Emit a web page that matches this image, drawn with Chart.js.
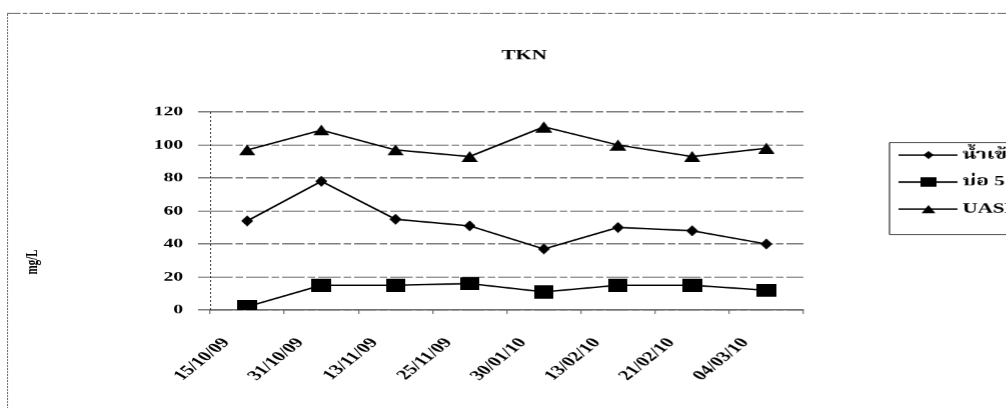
<!DOCTYPE html>
<html>
<head>
<meta charset="utf-8">
<script src="https://cdn.jsdelivr.net/npm/chart.js@4"></script>
<style>
  html, body { margin: 0; padding: 0; background: #fff; overflow: hidden; }
  #wrap { width: 1006px; height: 408px; position: relative; overflow: hidden; }
  /* the sheet is laid out narrow and widened 1.5x, like the printed original */
  #c { position: absolute; left: 0; top: 0; transform-origin: 0 0; transform: scaleX(1.5); }
</style>
</head>
<body>
<div id="wrap"><canvas id="c" width="671" height="408"></canvas></div>
<script>
// Sampling dates and TKN concentrations (mg/L)
const dates = ['15/10/09', '31/10/09', '13/11/09', '25/11/09', '30/01/10', '13/02/10', '21/02/10', '04/03/10'];
const influent = [54, 78, 55, 51, 37, 50, 48, 40];
const pond5 = [2, 15, 15, 16, 11, 15, 15, 12];
const uasb = [97, 109, 97, 93, 111, 100, 93, 98];
const seriesNames = ['น้ำเข้า', 'บ่อ 5', 'UASB'];
const chartTitle = 'TKN';
const yTitle = 'mg/L';
const yMin = 0, yMax = 120, yStep = 20;

const SX = 1.5; // horizontal widening applied to the canvas
const FONT = "'Liberation Serif', 'Noto Serif Thai', 'Noto Sans Thai', serif";

// Solid black marker glyphs, drawn at high resolution
function markerImage(kind, w, h) {
  const k = 4;
  const c = document.createElement('canvas');
  c.width = w * k; c.height = h * k;
  const g = c.getContext('2d');
  const W = c.width, H = c.height;
  g.fillStyle = '#000';
  g.beginPath();
  if (kind === 'diamond') {
    g.moveTo(W / 2, 0); g.lineTo(W, H / 2); g.lineTo(W / 2, H); g.lineTo(0, H / 2);
  } else if (kind === 'rect') {
    g.rect(0, 0, W, H);
  } else {
    g.moveTo(W / 2, 0); g.lineTo(W, H); g.lineTo(0, H);
  }
  g.closePath();
  g.fill();
  const img = new Image(w, h);
  img.src = c.toDataURL();
  return img;
}
const diamondMark = markerImage('diamond', 8, 11);
const rectMark = markerImage('rect', 13, 13);
const triMark = markerImage('triangle', 11, 11);

// Page frame, dotted value axis, titles and legend
const decor = {
  id: 'decor',
  beforeDraw(chart) {
    const ctx = chart.ctx;
    ctx.save();
    ctx.strokeStyle = '#666';
    ctx.lineWidth = 1;
    ctx.setLineDash([9, 1.5, 3, 1.5]);
    ctx.beginPath(); ctx.moveTo(7 / SX, 13.5); ctx.lineTo(chart.width, 13.5); ctx.stroke();
    ctx.lineWidth = 1 / SX;
    ctx.setLineDash([2, 1]);
    ctx.beginPath(); ctx.moveTo(7.5 / SX, 14); ctx.lineTo(7.5 / SX, chart.height); ctx.stroke();
    ctx.restore();
  },
  afterDraw(chart) {
    const ctx = chart.ctx;
    const a = chart.chartArea;
    ctx.save();
    ctx.strokeStyle = '#333';
    ctx.lineWidth = 1 / SX;
    ctx.setLineDash([2, 2]);
    ctx.beginPath(); ctx.moveTo(a.left + 0.5 / SX, a.top); ctx.lineTo(a.left + 0.5 / SX, a.bottom); ctx.stroke();
    ctx.setLineDash([]);

    ctx.fillStyle = '#000';
    ctx.font = 'bold 14px ' + FONT;
    ctx.textAlign = 'center';
    ctx.textBaseline = 'middle';
    ctx.fillText(chartTitle, 524 / SX, 56);

    // value-axis unit, written upwards
    ctx.save();
    ctx.translate(33 / SX, 262);
    ctx.rotate(-Math.PI / 2);
    ctx.font = 'bold 11px ' + FONT;
    ctx.fillText(yTitle, 0, 0);
    ctx.restore();

    const lx = 889 / SX, ly = 142;
    ctx.strokeStyle = '#000';
    ctx.lineWidth = 1 / SX;
    ctx.beginPath(); ctx.moveTo(chart.width + 5, ly + 0.5); ctx.lineTo(lx, ly + 0.5); ctx.lineTo(lx, ly + 92.5); ctx.lineTo(chart.width + 5, ly + 92.5); ctx.stroke();
    const marks = [[diamondMark, 7, 8], [rectMark, 11, 9], [triMark, 9, 8]];
    chart.data.datasets.forEach((ds, i) => {
      const y = 155 + i * 27;
      ctx.strokeStyle = '#000';
      ctx.lineWidth = 1.5;
      ctx.beginPath(); ctx.moveTo(898 / SX, y); ctx.lineTo(957 / SX, y); ctx.stroke();
      const [m, w, h] = marks[i];
      ctx.drawImage(m, 928 / SX - w / 2, y - h / 2, w, h);
      ctx.fillStyle = '#000';
      ctx.font = 'bold 14px ' + FONT;
      ctx.textAlign = 'left';
      ctx.textBaseline = 'middle';
      ctx.fillText(ds.label, 962 / SX, y);
    });
    ctx.restore();
  }
};

const lineStyle = { borderColor: '#000', borderWidth: 1.5, pointRadius: 6, tension: 0, fill: false };

function draw() {
  new Chart(document.getElementById('c'), {
    type: 'line',
    data: {
      labels: dates,
      datasets: [
        Object.assign({ label: seriesNames[0], data: influent, pointStyle: diamondMark }, lineStyle),
        Object.assign({ label: seriesNames[1], data: pond5, pointStyle: rectMark }, lineStyle),
        Object.assign({ label: seriesNames[2], data: uasb, pointStyle: triMark }, lineStyle)
      ]
    },
    options: {
      responsive: false,
      animation: false,
      devicePixelRatio: SX,
      layout: { padding: { left: 10, right: 671 - 803 / SX, top: 112, bottom: 0 } },
      plugins: { legend: { display: false }, title: { display: false }, tooltip: { enabled: false } },
      scales: {
        x: {
          type: 'category',
          offset: true,
          grid: { offset: true, drawOnChartArea: false, drawTicks: true, tickLength: 4, tickWidth: 1 / SX, color: '#555' },
          border: { display: true, color: '#444', width: 1 },
          ticks: {
            autoSkip: false, minRotation: 50, maxRotation: 50,
            labelOffset: -14, padding: 21,
            color: '#000', font: { family: FONT, size: 14, weight: 'bold' }
          },
          afterFit(s) { s.height = 98; }
        },
        y: {
          min: yMin, max: yMax,
          grid: { color: '#555', tickLength: 8, lineWidth: 1 },
          border: { display: false, dash: [15, 2, 5, 2] },
          ticks: { stepSize: yStep, padding: 10, color: '#000', font: { family: FONT, size: 13, weight: 'bold' } },
          afterFit(s) { s.width = 210 / SX - 10; }
        }
      }
    },
    plugins: [decor]
  });
}

Promise.all([diamondMark, rectMark, triMark].map(img => img.decode().catch(() => null))).then(draw);
</script>
</body>
</html>
